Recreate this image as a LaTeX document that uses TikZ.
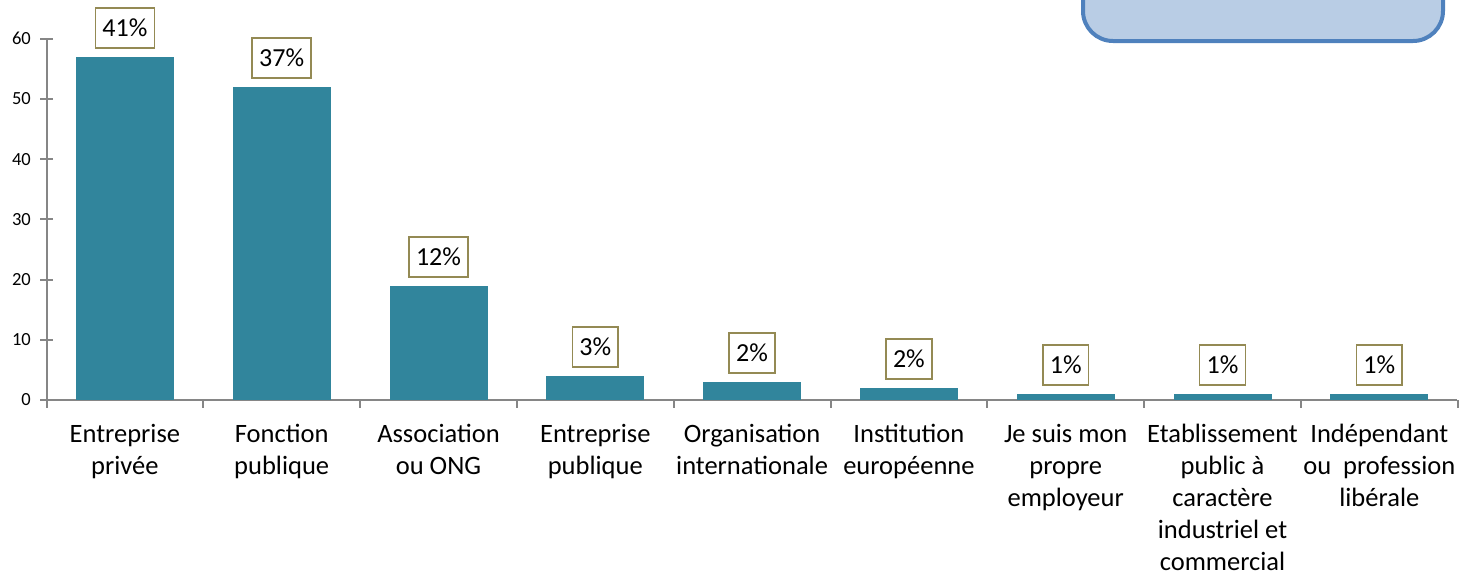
\documentclass[tikz,border=0pt]{standalone}
\usepackage{fontspec}
\setmainfont{Carlito}
\definecolor{barc}{HTML}{31859C}
\definecolor{lblc}{HTML}{948A54}
\definecolor{axc}{HTML}{868686}
\definecolor{boxf}{HTML}{B9CDE5}
\definecolor{boxd}{HTML}{4F81BD}
\tikzset{
  axis/.style={draw=axc, line width=2pt},
  bar/.style={fill=barc, draw=none},
  pct/.style={draw=lblc, line width=1.5pt, fill=white, inner xsep=7pt, inner ysep=0pt, minimum height=40pt, font=\fontsize{26}{30}\selectfont, anchor=south},
  cat/.style={inner sep=0pt, align=center, anchor=north, font=\fontsize{26.5}{32}\selectfont},
  ylab/.style={inner sep=0pt, anchor=east, font=\fontsize{18.5}{22}\selectfont},
  note/.style={fill=boxf, draw=boxd, line width=4pt, rounded corners=30pt}
}
\begin{document}
\begin{tikzpicture}[x=1pt,y=-1pt]
\useasboundingbox (0,0) rectangle (1460,574);
% top-right box (cut off)
\draw[note] (1083,-60) rectangle (1443,41);
% axes
\draw[axis] (46.5,39) -- (46.5,408);
\draw[axis] (40,400) -- (1457,400);
\foreach \v [count=\k from 0] in {0,10,...,60}{
  \draw[axis] (40,{400-6.02*\v}) -- (53,{400-6.02*\v});
  \node[ylab] (y\k) at (31,{400-6.02*\v}) {\v};
}
\foreach \i in {1,...,9}{
  \draw[axis] ({46.5+156.8*\i},400) -- ({46.5+156.8*\i},408);
}
% bars and labels
\foreach \v/\p [count=\i from 0] in {57/41,52/37,19/12,4/3,3/2,2/2,1/1,1/1,1/1}{
  \pgfmathsetmacro{\cx}{46.5+156.8*(\i+0.5)}
  \fill[bar] ({\cx-49},400) rectangle ({\cx+49},{400-6.02*\v});
  \coordinate (b\i) at (\cx,{400-6.02*\v});
  \node[pct] (l\i) at ([yshift=8pt]b\i) {\p\%};
}
% category labels
\foreach \t [count=\i from 0] in {
  {Entreprise\\privée},
  {Fonction\\publique},
  {Association\\ou ONG},
  {Entreprise\\publique},
  {Organisation\\internationale},
  {Institution\\européenne},
  {Je suis mon\\propre\\employeur},
  {Etablissement\\public à\\caractère\\industriel et\\commercial},
  {Indépendant\\ou~~profession\\libérale}}{
  \node[cat] (c\i) at ({46.5+156.8*(\i+0.5)},424) {\t};
}
\end{tikzpicture}
\end{document}
